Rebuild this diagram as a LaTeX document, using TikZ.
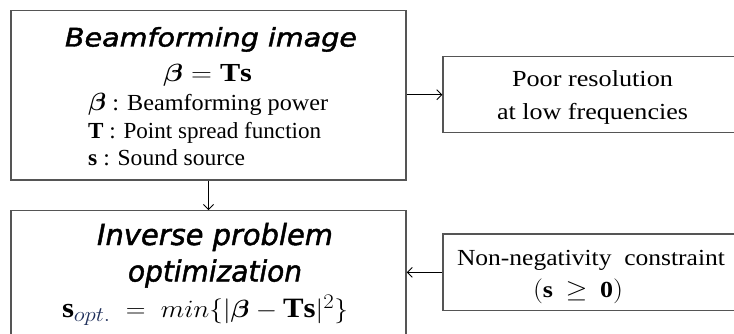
\documentclass[tikz,border=0pt]{standalone}
\usepackage{amsmath,bm,graphicx}
\usepackage{fontspec}
\setmainfont{Liberation Serif}
\newfontfamily\headfont[FakeBold=1.6]{DejaVu Sans}
\usetikzlibrary{arrows.meta}
\definecolor{boxgray}{HTML}{555555}
\definecolor{subblue}{HTML}{1F2F5A}
% set #2 and stretch it horizontally to a width of #1 pt
\newsavebox\fitbox
\newcommand\fitw[2]{\sbox\fitbox{#2}\pgfmathsetmacro\fitratio{#1/\the\wd\fitbox}\scalebox{\fitratio}[1]{\usebox\fitbox}}
% a larger than usual subscript
\newcommand\bigsub[1]{\mbox{\fontsize{20}{24}\selectfont$#1$}}
\begin{document}
\begin{tikzpicture}[x=1pt,y=-1pt,
  box/.style={draw=boxgray, line width=1.3pt, rectangle, inner sep=0pt},
  link/.style={draw=black, line width=0.9pt, -{Straight Barb[length=5pt,width=10pt]}},
  txt/.style={anchor=base, inner sep=0pt},
  lefttxt/.style={anchor=base west, inner sep=0pt},
  headA/.style={font=\headfont\itshape\fontsize{25.5}{30}\selectfont},
  headB/.style={font=\headfont\itshape\fontsize{29}{34}\selectfont},
  serif/.style={font=\fontsize{23}{28}\selectfont},
  mathbig/.style={font=\fontsize{26}{30}\selectfont},
  mathhuge/.style={font=\fontsize{28}{32}\selectfont}]
\useasboundingbox (0,0) rectangle (734,334);
\clip (0,0) rectangle (734,334);

% boxes
\node[box, minimum width=395pt, minimum height=169.5pt] (beam) at (208.5,95.3) {};
\node[box, minimum width=395pt, minimum height=140pt] (inv) at (208.5,280.7) {};
\node[box, minimum width=298pt, minimum height=76pt] (poor) at (592,94.7) {};
\node[box, minimum width=298pt, minimum height=76.7pt] (nonneg) at (592,272.4) {};

% beamforming image
\node[txt, headA] (t1) at (211,46.5) {\fitw{292}{Beamforming image}};
\node[txt, mathbig] (f1) at (207.5,82) {\fitw{89}{$\bm{\beta}=\mathbf{Ts}$}};
\node[lefttxt, serif] (l1) at (88,111) {\fitw{240}{$\bm{\beta}$ : Beamforming power}};
\node[lefttxt, serif] (l2) at (88,138.5) {\fitw{233}{$\mathbf{T}$ : Point spread function}};
\node[lefttxt, serif] (l3) at (88,166) {\fitw{157}{$\mathbf{s}$ : Sound source}};

% inverse problem
\node[txt, headB] (t2) at (215,245) {\fitw{236}{Inverse problem}};
\node[txt, headB] (t3) at (215,281.5) {\fitw{174}{optimization}};
\node[txt, mathhuge] (f2) at (205,317.5)
  {\fitw{286}{$\mathbf{s}_{\bigsub{\color{subblue}opt.}}\;=\;min\{|\bm{\beta}-\mathbf{Ts}|^{2}\}$}};

% side notes
\node[txt, serif] (p1) at (592.5,86.7) {\fitw{161}{Poor resolution}};
\node[txt, serif] (p2) at (592.5,120) {\fitw{191}{at low frequencies}};
\node[txt, serif] (n1) at (591,265) {\fitw{268}{Non-negativity\ \ constraint}};
\node[txt, serif] (n2) at (578,297.5) {\fitw{90}{$(\mathbf{s}\,\geq\,\mathbf{0})$}};

% connectors
\draw[link] (beam.south) -- (inv.north);
\draw[link] (poor.west -| beam.east) -- (poor.west);
\draw[link] (nonneg.west) -- (nonneg.west -| inv.east);
\end{tikzpicture}
\end{document}
